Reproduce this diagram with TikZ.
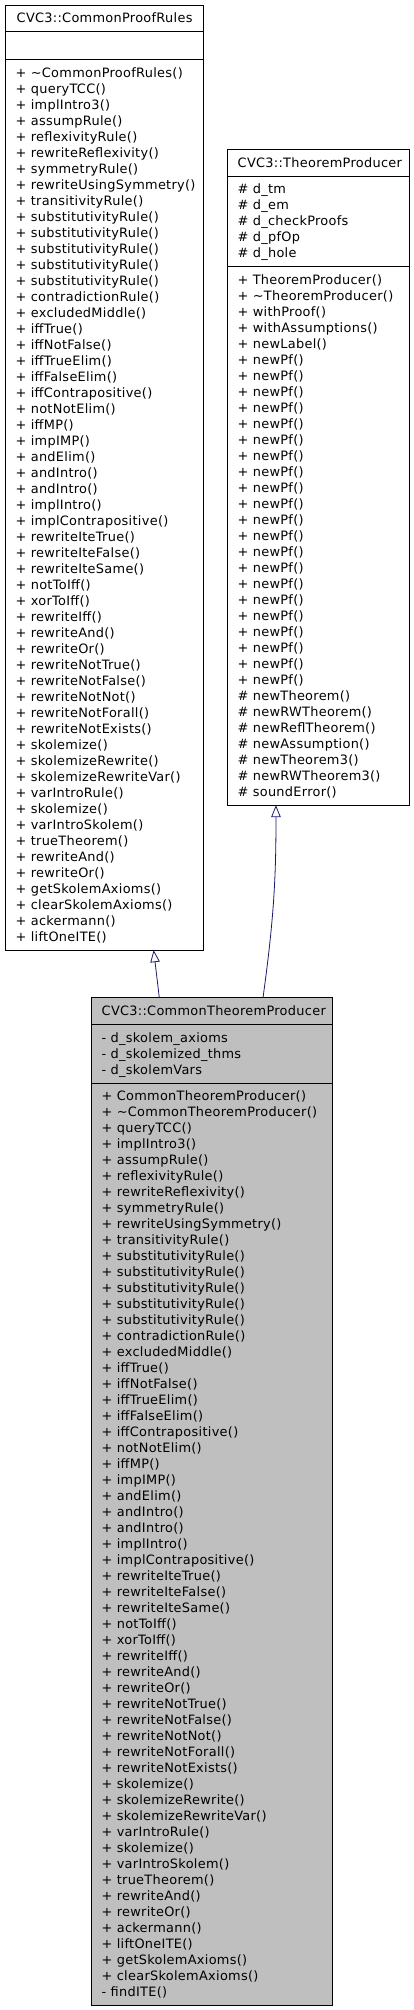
\documentclass[tikz,border=0pt]{standalone}
\usepackage{fontspec}
\setmainfont{DejaVu Sans}[LetterSpace=2.3]
\usetikzlibrary{arrows.meta, positioning, calc}
\definecolor{edgeblue}{HTML}{191970}
\definecolor{classgray}{HTML}{BFBFBF}
\hyphenpenalty=10000
\exhyphenpenalty=10000
\hbadness=10000
\hfuzz=50pt
\newcommand{\rowstrut}{\vrule height 12.5pt depth 3.5pt width 0pt}
\newcommand{\pubm}[1]{\rowstrut+~#1}
\newcommand{\prom}[1]{\rowstrut\#~#1}
\newcommand{\privm}[1]{\rowstrut-~#1}

\begin{document}
\begin{tikzpicture}[
  font=\fontsize{12.9}{16}\selectfont,
  clsname/.style={draw, line width=0.8pt, outer sep=0pt, anchor=north west,
                  inner xsep=10pt, inner ysep=5.3pt, text width=#1, align=center},
  clsbody/.style={draw, line width=0.8pt, outer sep=0pt,
                  inner xsep=10pt, inner ysep=5.3pt, text width=#1, align=left},
  inherit/.style={-{Triangle[open, length=12pt, width=9.5pt]}, line width=0.8pt, color=edgeblue}
]
  \useasboundingbox[fill=white] (0,0) rectangle (413pt,-2010pt);

  % base class on the left
  \node[clsname=177.8pt] (cpr-name) at (5.7pt,-5pt) {\rowstrut CVC3::CommonProofRules};
  \node[clsbody=177.8pt, minimum height=28pt, below=0pt of cpr-name] (cpr-attr) {};
  \node[clsbody=177.8pt, below=0pt of cpr-attr] (cpr-ops) {%
    \pubm{\textasciitilde CommonProofRules()}\\ \pubm{queryTCC()}\\ \pubm{implIntro3()}\\
    \pubm{assumpRule()}\\ \pubm{reflexivityRule()}\\ \pubm{rewriteReflexivity()}\\
    \pubm{symmetryRule()}\\ \pubm{rewriteUsingSymmetry()}\\ \pubm{transitivityRule()}\\
    \pubm{substitutivityRule()}\\ \pubm{substitutivityRule()}\\ \pubm{substitutivityRule()}\\
    \pubm{substitutivityRule()}\\ \pubm{substitutivityRule()}\\ \pubm{contradictionRule()}\\
    \pubm{excludedMiddle()}\\ \pubm{iffTrue()}\\ \pubm{iffNotFalse()}\\
    \pubm{iffTrueElim()}\\ \pubm{iffFalseElim()}\\ \pubm{iffContrapositive()}\\
    \pubm{notNotElim()}\\ \pubm{iffMP()}\\ \pubm{impIMP()}\\
    \pubm{andElim()}\\ \pubm{andIntro()}\\ \pubm{andIntro()}\\
    \pubm{implIntro()}\\ \pubm{implContrapositive()}\\ \pubm{rewriteIteTrue()}\\
    \pubm{rewriteIteFalse()}\\ \pubm{rewriteIteSame()}\\ \pubm{notToIff()}\\
    \pubm{xorToIff()}\\ \pubm{rewriteIff()}\\ \pubm{rewriteAnd()}\\
    \pubm{rewriteOr()}\\ \pubm{rewriteNotTrue()}\\ \pubm{rewriteNotFalse()}\\
    \pubm{rewriteNotNot()}\\ \pubm{rewriteNotForall()}\\ \pubm{rewriteNotExists()}\\
    \pubm{skolemize()}\\ \pubm{skolemizeRewrite()}\\ \pubm{skolemizeRewriteVar()}\\
    \pubm{varIntroRule()}\\ \pubm{skolemize()}\\ \pubm{varIntroSkolem()}\\
    \pubm{trueTheorem()}\\ \pubm{rewriteAnd()}\\ \pubm{rewriteOr()}\\
    \pubm{getSkolemAxioms()}\\ \pubm{clearSkolemAxioms()}\\ \pubm{ackermann()}\\
    \pubm{liftOneITE()}};

  % base class on the right
  \node[clsname=161.3pt] (tp-name) at (227.7pt,-149.3pt) {\rowstrut CVC3::TheoremProducer};
  \node[clsbody=161.3pt, below=0pt of tp-name] (tp-attr) {%
    \prom{d\_tm}\\ \prom{d\_em}\\ \prom{d\_checkProofs}\\ \prom{d\_pfOp}\\ \prom{d\_hole}};
  \node[clsbody=161.3pt, below=0pt of tp-attr] (tp-ops) {%
    \pubm{TheoremProducer()}\\ \pubm{\textasciitilde TheoremProducer()}\\ \pubm{withProof()}\\
    \pubm{withAssumptions()}\\ \pubm{newLabel()}\\
    \pubm{newPf()}\\ \pubm{newPf()}\\ \pubm{newPf()}\\ \pubm{newPf()}\\ \pubm{newPf()}\\
    \pubm{newPf()}\\ \pubm{newPf()}\\ \pubm{newPf()}\\ \pubm{newPf()}\\ \pubm{newPf()}\\
    \pubm{newPf()}\\ \pubm{newPf()}\\ \pubm{newPf()}\\ \pubm{newPf()}\\ \pubm{newPf()}\\
    \pubm{newPf()}\\ \pubm{newPf()}\\ \pubm{newPf()}\\ \pubm{newPf()}\\ \pubm{newPf()}\\
    \pubm{newPf()}\\
    \prom{newTheorem()}\\ \prom{newRWTheorem()}\\ \prom{newReflTheorem()}\\
    \prom{newAssumption()}\\ \prom{newTheorem3()}\\ \prom{newRWTheorem3()}\\
    \prom{soundError()}};

  % derived class
  \node[clsname=220.6pt, fill=classgray] (ctp-name) at (91.7pt,-997.7pt) {\rowstrut CVC3::CommonTheoremProducer};
  \node[clsbody=220.6pt, fill=classgray, below=0pt of ctp-name] (ctp-attr) {%
    \privm{d\_skolem\_axioms}\\ \privm{d\_skolemized\_thms}\\ \privm{d\_skolemVars}};
  \node[clsbody=220.6pt, fill=classgray, below=0pt of ctp-attr] (ctp-ops) {%
    \pubm{CommonTheoremProducer()}\\ \pubm{\textasciitilde CommonTheoremProducer()}\\ \pubm{queryTCC()}\\
    \pubm{implIntro3()}\\ \pubm{assumpRule()}\\ \pubm{reflexivityRule()}\\
    \pubm{rewriteReflexivity()}\\ \pubm{symmetryRule()}\\ \pubm{rewriteUsingSymmetry()}\\
    \pubm{transitivityRule()}\\ \pubm{substitutivityRule()}\\ \pubm{substitutivityRule()}\\
    \pubm{substitutivityRule()}\\ \pubm{substitutivityRule()}\\ \pubm{substitutivityRule()}\\
    \pubm{contradictionRule()}\\ \pubm{excludedMiddle()}\\ \pubm{iffTrue()}\\
    \pubm{iffNotFalse()}\\ \pubm{iffTrueElim()}\\ \pubm{iffFalseElim()}\\
    \pubm{iffContrapositive()}\\ \pubm{notNotElim()}\\ \pubm{iffMP()}\\
    \pubm{impIMP()}\\ \pubm{andElim()}\\ \pubm{andIntro()}\\
    \pubm{andIntro()}\\ \pubm{implIntro()}\\ \pubm{implContrapositive()}\\
    \pubm{rewriteIteTrue()}\\ \pubm{rewriteIteFalse()}\\ \pubm{rewriteIteSame()}\\
    \pubm{notToIff()}\\ \pubm{xorToIff()}\\ \pubm{rewriteIff()}\\
    \pubm{rewriteAnd()}\\ \pubm{rewriteOr()}\\ \pubm{rewriteNotTrue()}\\
    \pubm{rewriteNotFalse()}\\ \pubm{rewriteNotNot()}\\ \pubm{rewriteNotForall()}\\
    \pubm{rewriteNotExists()}\\ \pubm{skolemize()}\\ \pubm{skolemizeRewrite()}\\
    \pubm{skolemizeRewriteVar()}\\ \pubm{varIntroRule()}\\ \pubm{skolemize()}\\
    \pubm{varIntroSkolem()}\\ \pubm{trueTheorem()}\\ \pubm{rewriteAnd()}\\
    \pubm{rewriteOr()}\\ \pubm{ackermann()}\\ \pubm{liftOneITE()}\\
    \pubm{getSkolemAxioms()}\\ \pubm{clearSkolemAxioms()}\\ \privm{findITE()}};

  % inheritance
  \draw[inherit] ($(ctp-name.north west)!0.281!(ctp-name.north east)$)
    -- ($(cpr-ops.south west)!0.748!(cpr-ops.south east)$);
  \draw[inherit] ($(ctp-name.north west)!0.712!(ctp-name.north east)$)
    to[bend right=4] ($(tp-ops.south west)!0.266!(tp-ops.south east)$);
\end{tikzpicture}
\end{document}
